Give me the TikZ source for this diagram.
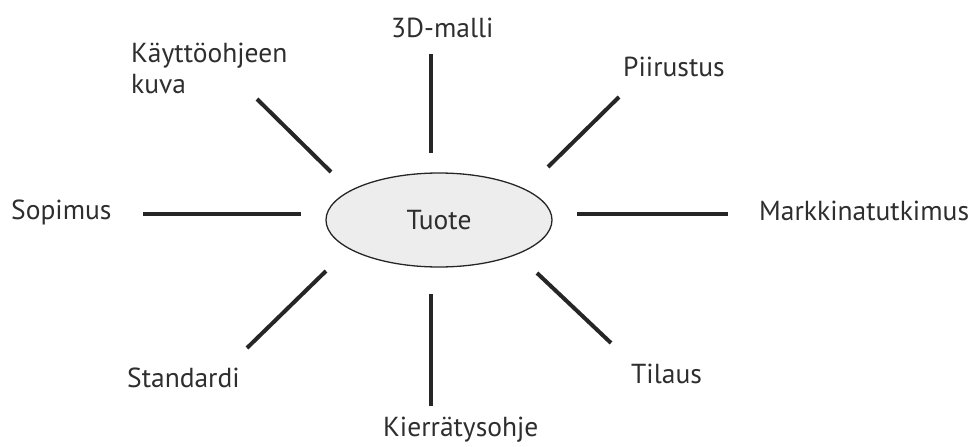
\documentclass[tikz,border=0pt]{standalone}
\usepackage{fontspec}
\setmainfont{PT Sans}
\usetikzlibrary{shapes.geometric}
\definecolor{txt}{HTML}{2E2E2E}
\definecolor{ovalfill}{HTML}{EDEDED}
\begin{document}
\begin{tikzpicture}[x=1pt,y=-1pt,
  lbl/.style={inner sep=0pt,anchor=base west,text=txt,font=\fontsize{27.5}{31}\selectfont},
  spoke/.style={line width=4pt,draw=black!85},
  hub/.style={ellipse,draw=black!85,line width=1.3pt,fill=ovalfill,minimum width=226pt,minimum height=94pt,inner sep=0pt,text=txt,font=\fontsize{27.5}{31}\selectfont}]
\useasboundingbox (0,0) rectangle (972,447);

% central product
\node[hub] (tuote) at (439,220) {Tuote};

% surrounding labels (base of a two-line label is its last line)
\node[lbl,align=left] (kayttoohje) at (131,93) {Käyttöohjeen\\kuva};
\node[lbl] (malli) at (391,37) {3D-malli};
\node[lbl] (piirustus) at (623,76) {Piirustus};
\node[lbl] (sopimus) at (11,219) {Sopimus};
\node[lbl] (markkina) at (759,220) {Markkinatutkimus};
\node[lbl] (standardi) at (127,387) {Standardi};
\node[lbl] (tilaus) at (631,383) {Tilaus};
\node[lbl] (kierratys) at (383,436) {Kierrätysohje};

% spoke end points
\coordinate (n1) at (431,54);   \coordinate (n2) at (431,153);
\coordinate (nw1) at (257,99);  \coordinate (nw2) at (331,172);
\coordinate (ne1) at (619,97);  \coordinate (ne2) at (548,167);
\coordinate (w1) at (143,214);  \coordinate (w2) at (301,214);
\coordinate (e1) at (577,214);  \coordinate (e2) at (728,214);
\coordinate (sw1) at (326,271); \coordinate (sw2) at (247,348);
\coordinate (se1) at (537,273); \coordinate (se2) at (611,343);
\coordinate (s1) at (431,294);  \coordinate (s2) at (431,406);

\draw[spoke] (n1) -- (n2);
\draw[spoke] (nw1) -- (nw2);
\draw[spoke] (ne1) -- (ne2);
\draw[spoke] (w1) -- (w2);
\draw[spoke] (e1) -- (e2);
\draw[spoke] (sw1) -- (sw2);
\draw[spoke] (se1) -- (se2);
\draw[spoke] (s1) -- (s2);
\end{tikzpicture}
\end{document}
